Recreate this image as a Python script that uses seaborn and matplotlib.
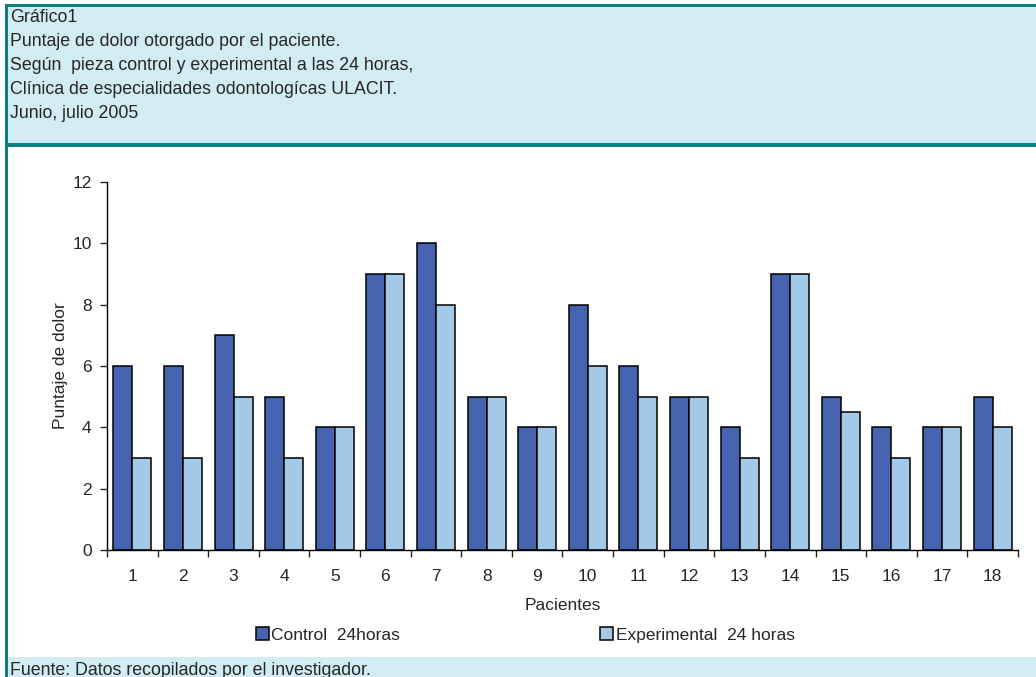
import matplotlib
matplotlib.use("Agg")
import matplotlib.pyplot as plt
import seaborn as sns
import pandas as pd
from matplotlib.patches import Rectangle

# Data
pacientes = [str(i) for i in range(1, 19)]
control = [6, 6, 7, 5, 4, 9, 10, 5, 4, 8, 6, 5, 4, 9, 5, 4, 4, 5]
experimental = [3, 3, 5, 3, 4, 9, 8, 5, 4, 6, 5, 5, 3, 9, 4.5, 3, 4, 4]
series = ["Control  24horas", "Experimental  24 horas"]
colors = ["#4563AE", "#A3C9E8"]

header_lines = [
    "Gráfico1",
    "Puntaje de dolor otorgado por el paciente.",
    "Según  pieza control y experimental a las 24 horas,",
    "Clínica de especialidades odontologícas ULACIT.",
    "Junio, julio 2005",
]
footer = "Fuente: Datos recopilados por el investigador."

df = pd.DataFrame({
    "Paciente": pacientes * 2,
    "Puntaje": control + experimental,
    "Serie": [series[0]] * 18 + [series[1]] * 18,
})

sns.set_style("white")
plt.rcParams["font.family"] = ["Liberation Sans", "DejaVu Sans"]

W, H = 1036, 677
fs = 12.5
fig = plt.figure(figsize=(W / 100, H / 100), dpi=100)

teal = "#0E7F7C"
light = "#D1ECF2"


def band(x0, y0, x1, y1, color, z=0):
    # pixel box (top-left origin) -> figure rectangle
    fig.patches.append(Rectangle((x0 / W, 1 - y1 / H), (x1 - x0) / W, (y1 - y0) / H,
                                 transform=fig.transFigure, facecolor=color,
                                 edgecolor="none", zorder=z))


band(5, 4, W, 147, light)
band(5, 4, W, 7, teal, 1)
band(5, 143, W, 147, teal, 1)
band(8, 657, W, H, light)
band(5, 4, 8, H, teal, 1)

for i, line in enumerate(header_lines):
    fig.text(10 / W, 1 - (21.5 + i * 24) / H, line, fontsize=12.8, va="baseline", ha="left")
fig.text(10 / W, 1 - 675 / H, footer, fontsize=12.8, va="baseline", ha="left")

ax = fig.add_axes([107 / W, 1 - 550 / H, (1018 - 107) / W, (550 - 182) / H])
sns.barplot(data=df, x="Paciente", y="Puntaje", hue="Serie", palette=colors,
            saturation=1, width=0.75, edgecolor="black", linewidth=1.1, ax=ax, legend=True)

ax.set_xlim(-0.5, 17.5)
ax.set_ylim(0, 12)
ax.set_yticks(range(0, 13, 2))
ax.set_xticks([i - 0.5 for i in range(19)], minor=True)
ax.tick_params(axis="x", which="major", length=0, labelsize=fs, pad=14)
ax.tick_params(axis="x", which="minor", length=5, width=1, direction="out", bottom=True)
ax.tick_params(axis="y", length=5, width=1, direction="out", left=True, labelsize=fs, pad=6)
for s in ["top", "right"]:
    ax.spines[s].set_visible(False)
for s in ["left", "bottom"]:
    ax.spines[s].set_color("black")
    ax.spines[s].set_linewidth(1)
ax.set_xlabel("Pacientes", fontsize=fs, labelpad=10)
ax.set_ylabel("Puntaje de dolor", fontsize=fs, labelpad=3)

handles, labels = ax.get_legend_handles_labels()
ax.legend(handles, labels, loc="center", bbox_to_anchor=(0.507, 1 - 635 / H),
          bbox_transform=fig.transFigure, ncol=2, frameon=False, fontsize=fs,
          handlelength=0.75, handleheight=0.75, handletextpad=0.15, columnspacing=11.5)

fig.savefig("out.png", dpi=100)
